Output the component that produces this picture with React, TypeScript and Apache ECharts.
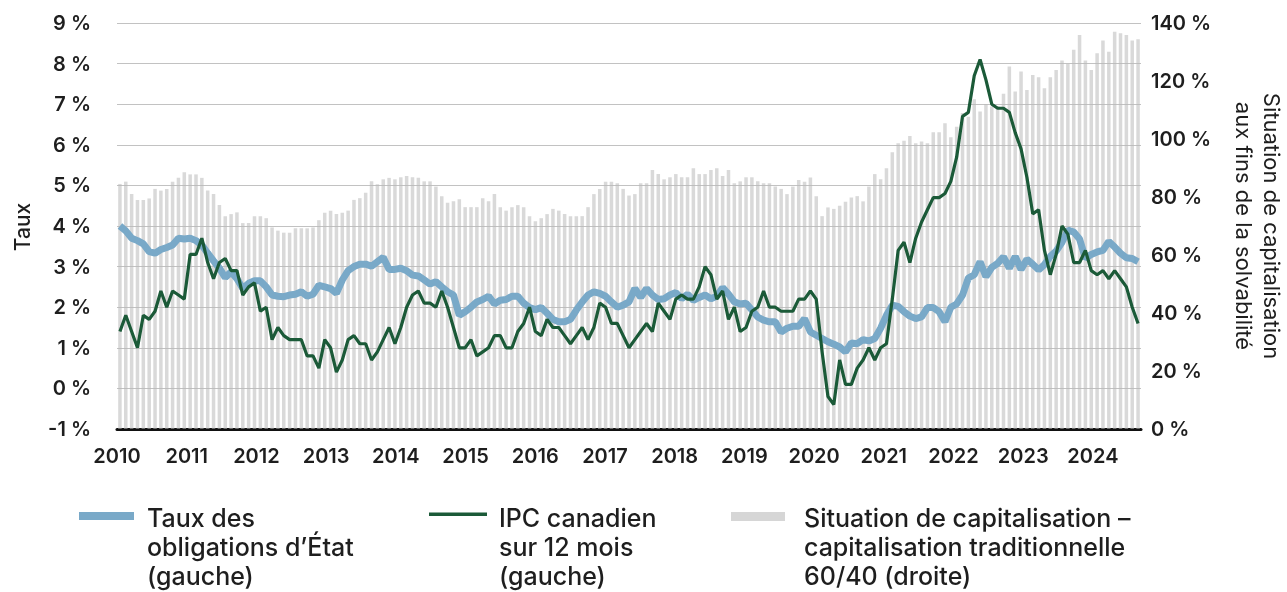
import React, { useEffect, useRef } from "react";
import * as echarts from "echarts";

// Monthly data, March 2010 – September 2024
const START_YEAR = 2010;
const START_MONTH = 3;

// Taux des obligations d'État (gauche), %
const bondYield = [
  4.0, 3.88, 3.7, 3.64, 3.56, 3.37, 3.33, 3.42, 3.47, 3.53,
  3.7, 3.68, 3.7, 3.64, 3.53, 3.33, 3.14, 2.96, 2.73, 2.87,
  2.7, 2.46, 2.59, 2.65, 2.65, 2.5, 2.3, 2.27, 2.26, 2.3,
  2.32, 2.38, 2.27, 2.32, 2.54, 2.5, 2.46, 2.34, 2.67, 2.9,
  3.0, 3.06, 3.06, 3.01, 3.12, 3.23, 2.93, 2.93, 2.96, 2.9,
  2.79, 2.77, 2.67, 2.57, 2.63, 2.5, 2.38, 2.3, 1.8, 1.89,
  2.0, 2.13, 2.19, 2.27, 2.08, 2.17, 2.19, 2.27, 2.27, 2.1,
  1.99, 1.94, 1.99, 1.85, 1.7, 1.64, 1.64, 1.7, 1.93, 2.13,
  2.3, 2.38, 2.34, 2.27, 2.13, 2.0, 2.05, 2.13, 2.46, 2.24,
  2.46, 2.3, 2.19, 2.21, 2.3, 2.36, 2.21, 2.32, 2.17, 2.24,
  2.3, 2.21, 2.27, 2.48, 2.32, 2.13, 2.08, 2.1, 1.93, 1.76,
  1.68, 1.64, 1.64, 1.39, 1.48, 1.53, 1.53, 1.72, 1.39, 1.31,
  1.23, 1.15, 1.09, 1.02, 0.9, 1.12, 1.1, 1.2, 1.17, 1.23,
  1.48, 1.8, 2.05, 2.02, 1.89, 1.78, 1.72, 1.76, 1.99, 1.99,
  1.89, 1.64, 2.0, 2.08, 2.3, 2.72, 2.8, 3.12, 2.75, 2.98,
  3.08, 3.24, 2.96, 3.25, 2.93, 3.18, 3.06, 2.92, 3.05, 3.25,
  3.38, 3.6, 3.9, 3.85, 3.68, 3.2, 3.3, 3.36, 3.4, 3.62,
  3.48, 3.33, 3.22, 3.2, 3.12,
];

// IPC canadien sur 12 mois (gauche), %
const cpi12m = [
  1.4, 1.8, 1.4, 1.0, 1.8, 1.7, 1.9, 2.4, 2.0, 2.4,
  2.3, 2.2, 3.3, 3.3, 3.7, 3.1, 2.7, 3.1, 3.2, 2.9, 2.9, 2.3,
  2.5, 2.6, 1.9, 2.0, 1.2, 1.5, 1.3, 1.2, 1.2, 1.2, 0.8, 0.8,
  0.5, 1.2, 1.0, 0.4, 0.7, 1.2, 1.3, 1.1, 1.1, 0.7, 0.9, 1.2,
  1.5, 1.1, 1.5, 2.0, 2.3, 2.4, 2.1, 2.1, 2.0, 2.4, 2.0, 1.5,
  1.0, 1.0, 1.2, 0.8, 0.9, 1.0, 1.3, 1.3, 1.0, 1.0, 1.4, 1.6,
  2.0, 1.4, 1.3, 1.7, 1.5, 1.5, 1.3, 1.1, 1.3, 1.5, 1.2, 1.5,
  2.1, 2.0, 1.6, 1.6, 1.3, 1.0, 1.2, 1.4, 1.6, 1.4, 2.1, 1.9,
  1.7, 2.2, 2.3, 2.2, 2.2, 2.5, 3.0, 2.8, 2.2, 2.4, 1.7, 2.0,
  1.4, 1.5, 1.9, 2.0, 2.4, 2.0, 2.0, 1.9, 1.9, 1.9, 2.2, 2.2,
  2.4, 2.2, 0.9, -0.2, -0.4, 0.7, 0.1, 0.1, 0.5, 0.7, 1.0, 0.7,
  1.0, 1.1, 2.2, 3.4, 3.6, 3.1, 3.7, 4.1, 4.4, 4.7, 4.7, 4.8,
  5.1, 5.7, 6.7, 6.8, 7.7, 8.1, 7.6, 7.0, 6.9, 6.9, 6.8, 6.3,
  5.9, 5.2, 4.3, 4.4, 3.4, 2.8, 3.3, 4.0, 3.8, 3.1, 3.1, 3.4,
  2.9, 2.8, 2.9, 2.7, 2.9, 2.7, 2.5, 2.0, 1.6,
];

// Situation de capitalisation – capitalisation traditionnelle 60/40 (droite), %
const fundedStatus = [
  84.5, 85.3, 81, 79, 79, 79.5, 82.8, 82.2, 82.8, 85.3,
  86.6, 88.5, 87.8, 87.8, 86.6, 82.2, 81, 77.2, 73.4, 74.1,
  74.7, 71, 71, 73.4, 73.4, 72.7, 69.5, 68.4, 67.7, 67.7,
  69.2, 69.2, 69.2, 69.5, 72, 74.6, 75.3, 74.1, 74.6, 75.3,
  79, 79.6, 81.5, 85.4, 84.4, 86.1, 86.6, 86.1, 86.8, 87.2,
  86.8, 86.6, 85.4, 85.4, 83.6, 80.3, 78, 78.5, 79.2, 76.5,
  76.5, 76.5, 79.6, 78.5, 81, 76.5, 75.3, 76.5, 77.2, 76.5,
  73.4, 71.6, 72.7, 74.1, 75.9, 75.3, 74.1, 73.4, 73.4, 73.4,
  76.5, 81, 82.8, 85.3, 85.3, 84.7, 82.8, 80.5, 81, 84.7,
  84.7, 89.3, 87.9, 86.1, 86.8, 87.9, 86.8, 86.8, 89.9, 87.9,
  87.9, 89.3, 89.9, 87.2, 89.3, 84.7, 85.4, 86.8, 86.8, 85.4,
  84.7, 84.7, 83.6, 82.8, 81, 83.6, 85.9, 85.3, 86.7, 80.3,
  73.4, 76.4, 75.9, 77, 78.4, 79.8, 80.3, 78.5, 83.6, 87.9,
  86.1, 89.9, 95.4, 98.5, 99.4, 101, 98.5, 99.1, 98.5, 102.3,
  102.3, 105.4, 100.6, 104.2, 109, 107.7, 113.7, 109.5, 112.1, 111.2,
  111.4, 115.6, 125, 116.4, 123.3, 116.9, 122.1, 121.3, 117.5, 121.3,
  123.8, 127.1, 125.9, 130.8, 135.9, 127.1, 123.8, 129.6, 134, 130.1,
  137, 136.5, 135.9, 134, 134.4,
];

const months = bondYield.map((_, i) => {
  const m = START_MONTH - 1 + i;
  return `${START_YEAR + Math.floor(m / 12)}-${String((m % 12) + 1).padStart(2, "0")}`;
});

const legendLabels = [
  "Taux des\nobligations d’État\n(gauche)",
  "IPC canadien\nsur 12 mois\n(gauche)",
  "Situation de capitalisation –\ncapitalisation traditionnelle\n60/40 (droite)",
];

const BLUE = "#79a9c8";
const GREEN = "#1b5a38";
const GREY = "#d6d6d6";
const FONT = 'Inter, "Noto Sans", sans-serif';
const TEXT = "#1e1e1e";

export default function App() {
  const ref = useRef<HTMLDivElement>(null);

  useEffect(() => {
    if (!ref.current) return;
    const chart = echarts.init(ref.current, undefined, { renderer: "svg" });

    const tickLabel = {
      fontFamily: FONT,
      fontSize: 20,
      fontWeight: 600,
      color: TEXT,
    };

    const legendText = (x: number, text: string) => ({
      type: "text",
      x,
      y: 503,
      style: {
        text,
        fontFamily: FONT,
        fontSize: 25,
        fontWeight: 500,
        lineHeight: 29,
        fill: TEXT,
        align: "left",
        verticalAlign: "top",
      },
    });

    chart.setOption({
      animation: false,
      grid: { left: 117, right: 146, top: 23, bottom: 163, containLabel: false },
      xAxis: [
        {
          type: "category",
          data: months,
          boundaryGap: true,
          axisLine: { onZero: false, lineStyle: { color: "#111", width: 3 } },
          axisTick: { show: false },
          axisLabel: { show: false },
          splitLine: { show: false },
        },
        {
          type: "value",
          position: "bottom",
          min: 2010,
          max: 2024.69,
          interval: 1,
          axisLine: { show: false },
          axisTick: { show: false },
          splitLine: { show: false },
          axisLabel: {
            ...tickLabel,
            margin: 17,
            showMaxLabel: false,
            formatter: (v: number) => (Number.isInteger(v) ? String(v) : ""),
          },
        },
      ],
      yAxis: [
        {
          type: "value",
          min: -1,
          max: 9,
          interval: 1,
          axisLine: { show: false },
          axisTick: { show: false },
          axisLabel: { ...tickLabel, margin: 26, formatter: "{value} %" },
          splitLine: { lineStyle: { color: "#c2c2c2", width: 1 } },
        },
        {
          type: "value",
          position: "right",
          min: 0,
          max: 140,
          interval: 20,
          axisLine: { show: false },
          axisTick: { show: false },
          axisLabel: { ...tickLabel, margin: 10, formatter: "{value} %" },
          splitLine: { show: false },
        },
      ],
      series: [
        {
          name: "Situation de capitalisation",
          type: "bar",
          yAxisIndex: 1,
          data: fundedStatus,
          barWidth: "60%",
          itemStyle: { color: "rgba(185,185,185,0.55)" },
          silent: true,
          z: 1,
        },
        {
          name: "Taux des obligations d’État",
          type: "line",
          data: bondYield,
          symbol: "none",
          lineStyle: { color: BLUE, width: 7 },
          z: 3,
        },
        {
          name: "IPC canadien sur 12 mois",
          type: "line",
          data: cpi12m,
          symbol: "none",
          lineStyle: { color: GREEN, width: 3.2 },
          z: 4,
        },
      ],
      graphic: [
        {
          type: "text",
          x: 22.5,
          y: 227,
          rotation: Math.PI / 2,
          style: {
            text: "Taux",
            fontFamily: FONT,
            fontSize: 21,
            fontWeight: 500,
            fill: TEXT,
            align: "center",
            verticalAlign: "middle",
          },
        },
        {
          type: "text",
          x: 1258,
          y: 226,
          rotation: -Math.PI / 2,
          style: {
            text: "Situation de capitalisation\naux fins de la solvabilité",
            fontFamily: FONT,
            fontSize: 22,
            fontWeight: 400,
            lineHeight: 28.5,
            fill: TEXT,
            align: "center",
            verticalAlign: "middle",
          },
        },
        { type: "rect", shape: { x: 79, y: 512, width: 55, height: 8 }, style: { fill: BLUE } },
        legendText(147, legendLabels[0]),
        { type: "rect", shape: { x: 429, y: 512.5, width: 58, height: 3.5 }, style: { fill: GREEN } },
        legendText(499, legendLabels[1]),
        { type: "rect", shape: { x: 731, y: 512, width: 54, height: 9 }, style: { fill: GREY } },
        legendText(804, legendLabels[2]),
      ],
    });

    return () => chart.dispose();
  }, []);

  return (
    <div
      ref={ref}
      style={{ position: "fixed", left: 0, top: 0, width: 1287, height: 592 }}
    />
  );
}
